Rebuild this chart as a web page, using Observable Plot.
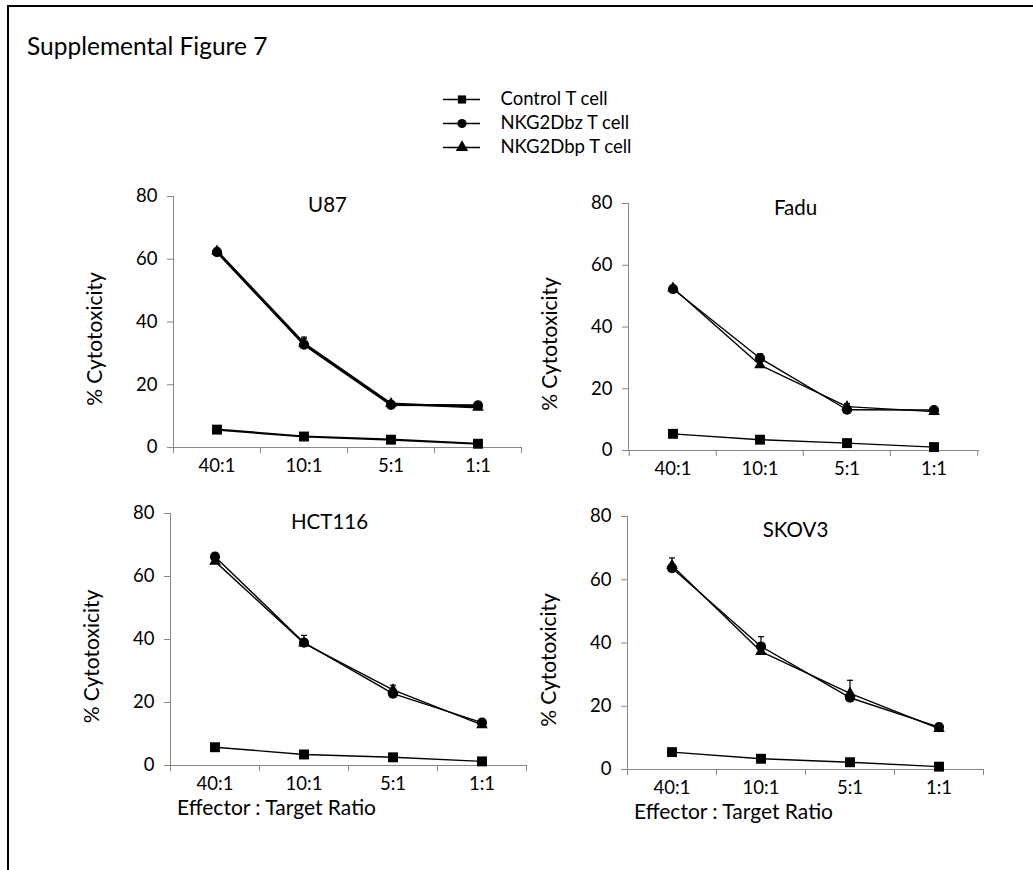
<!DOCTYPE html>
<html>
<head>
<meta charset="utf-8">
<script src="https://cdn.jsdelivr.net/npm/d3@7"></script>
<script src="https://cdn.jsdelivr.net/npm/@observablehq/plot@0.6"></script>
<style>
  body { margin: 0; background: #fff; }
  #root { position: relative; width: 1033px; height: 870px; overflow: hidden; font-family: Lato, sans-serif; color: #000; }
  #frame { position: absolute; left: 7px; top: 5px; width: 1200px; height: 1000px; border-left: 2px solid #000; border-top: 2px solid #000; }
  #title { position: absolute; left: 27px; top: 31px; font-size: 24.5px; white-space: nowrap; }
  .abs { position: absolute; }
</style>
</head>
<body>
<div id="root">
  <div id="frame"></div>
  <div id="title">Supplemental Figure 7</div>
</div>
<script>
// ---------- data ----------
const ratios = ["40:1", "10:1", "5:1", "1:1"];
const seriesNames = ["Control T cell", "NKG2Dbz T cell", "NKG2Dbp T cell"];
const panelNames = ["U87", "Fadu", "HCT116", "SKOV3"];
const yTicks = [0, 20, 40, 60, 80];
const yLabel = "% Cytotoxicity";
const xLabel = "Effector : Target Ratio";

const u87Control = [5.7, 3.5, 2.5, 1.2];
const u87Bz      = [62.3, 32.8, 13.6, 13.4];
const u87Bp      = [62.6, 33.2, 14.0, 12.8];
const u87BzErr   = [1.2, 2.4, 1.0, 0.4];
const u87BpErr   = [0.8, 1.5, 0.8, 0.4];

const faduControl = [5.4, 3.5, 2.4, 1.1];
const faduBz      = [52.3, 29.9, 13.2, 13.1];
const faduBp      = [52.6, 27.7, 14.2, 12.6];
const faduBzErr   = [1.1, 1.4, 0.6, 0.4];
const faduBpErr   = [0.8, 1.0, 1.0, 0.4];

const hctControl = [5.8, 3.5, 2.6, 1.3];
const hctBz      = [66.3, 39.0, 22.8, 13.6];
const hctBp      = [64.8, 38.8, 24.0, 12.9];
const hctBzErr   = [0.8, 2.3, 1.0, 0.5];
const hctBpErr   = [0.8, 1.2, 1.5, 0.6];

const skovControl = [5.5, 3.4, 2.3, 0.9];
const skovBz      = [63.7, 38.9, 22.7, 13.4];
const skovBp      = [64.5, 37.3, 24.1, 12.9];
const skovBzErr   = [1.0, 3.1, 1.0, 1.0];
const skovBpErr   = [2.4, 1.2, 4.1, 0.8];

const controlErrZero = [0, 0, 0, 0];

const panels = [
  {name: panelNames[0], control: u87Control, bz: u87Bz, bp: u87Bp, bzErr: u87BzErr, bpErr: u87BpErr},
  {name: panelNames[1], control: faduControl, bz: faduBz, bp: faduBp, bzErr: faduBzErr, bpErr: faduBpErr},
  {name: panelNames[2], control: hctControl, bz: hctBz, bp: hctBp, bzErr: hctBzErr, bpErr: hctBpErr},
  {name: panelNames[3], control: skovControl, bz: skovBz, bp: skovBp, bzErr: skovBzErr, bpErr: skovBpErr}
];

// ---------- layout / style ----------
const axisColor = "#878787";
const ML = 95, MR = 12;
const tickFont = 18.5, titleFont = 20.5, labelFont = 21, legendFont = 18.5;
const layouts = [
  {left: 78,  top: 171, plotW: 348, plotH: 251, mt: 25, mb: 35, titleDx: -20, titleDy: 9,  sw: 2.2, showX: false},
  {left: 533, top: 178, plotW: 350, plotH: 247, mt: 25, mb: 35, titleDx: -8,  titleDy: 5,  sw: 1.4, showX: false},
  {left: 75,  top: 488, plotW: 356, plotH: 252, mt: 25, mb: 60, titleDx: -19, titleDy: 9,  sw: 1.4, showX: true},
  {left: 532, top: 491, plotW: 356, plotH: 253, mt: 25, mb: 60, titleDx: -10, titleDy: 14, sw: 1.4, showX: true}
];
const symbolRange = ["square", "circle", "triangle"];
const symbolR = {"square": 5.6, "circle": 5.1, "triangle": 4.3};

const capSymbol = {
  draw(context, size) {
    const r = Math.sqrt(size / Math.PI);
    context.moveTo(-r, 0);
    context.lineTo(r, 0);
  }
};

function rowsFor(p) {
  const out = [];
  const vals = [p.control, p.bz, p.bp];
  const errs = [controlErrZero, p.bzErr, p.bpErr];
  seriesNames.forEach((s, si) => {
    ratios.forEach((r, i) => out.push({series: s, sym: symbolRange[si], ratio: r, value: vals[si][i], err: errs[si][i]}));
  });
  return out;
}

const root = document.getElementById("root");

panels.forEach((p, k) => {
  const L = layouts[k];
  const rows = rowsFor(p);
  const errRows = rows.filter(d => d.err > 0);
  const bw = L.plotW / ratios.length;
  const marks = [
    Plot.frame({anchor: "left", stroke: axisColor, strokeWidth: 1}),
    Plot.frame({anchor: "bottom", stroke: axisColor, strokeWidth: 1}),
    Plot.axisY({ticks: yTicks, tickSize: 6, tickPadding: 10, stroke: axisColor, label: null, fontSize: tickFont}),
    Plot.axisX({tickSize: 6, dx: -bw / 2, stroke: axisColor, tickFormat: () => "", label: null}),
    Plot.axisX({ticks: [ratios[ratios.length - 1]], tickSize: 6, dx: bw / 2, stroke: axisColor, tickFormat: () => "", label: null}),
    Plot.axisX({tickSize: 0, tickPadding: 11, label: null, fontSize: tickFont}),
    Plot.ruleX(errRows, {x: "ratio", y1: "value", y2: d => d.value + d.err, stroke: "#000", strokeWidth: 1.2}),
    Plot.dot(errRows, {x: "ratio", y: d => d.value + d.err, symbol: capSymbol, r: 3, fill: "none", stroke: "#000", strokeWidth: 1.2}),
    Plot.line(rows, {x: "ratio", y: "value", z: "series", stroke: "#000", strokeWidth: L.sw}),
    ...symbolRange.map(sym => Plot.dot(rows.filter(d => d.sym === sym), {x: "ratio", y: "value", symbol: "series", r: symbolR[sym], fill: "#000", stroke: "none"})),
    Plot.text([p.name], {text: d => d, frameAnchor: "top", dx: L.titleDx, dy: L.titleDy, lineAnchor: "middle", textAnchor: "middle", fontSize: titleFont}),
    Plot.text([yLabel], {text: d => d, frameAnchor: "left", rotate: -90, dx: -78, dy: 17, lineAnchor: "middle", textAnchor: "middle", fontSize: labelFont})
  ];
  if (L.showX) {
    marks.push(Plot.text([xLabel], {text: d => d, frameAnchor: "bottom-left", dx: 106, dy: 43, lineAnchor: "middle", textAnchor: "middle", fontSize: labelFont}));
  }
  const chart = Plot.plot({
    width: ML + L.plotW + MR,
    height: L.mt + L.plotH + L.mb,
    marginLeft: ML, marginRight: MR, marginTop: L.mt, marginBottom: L.mb,
    style: {fontFamily: "Lato, sans-serif", fontSize: tickFont + "px", color: "#000", background: "transparent", overflow: "visible"},
    x: {type: "band", domain: ratios, padding: 0, label: null},
    y: {domain: [0, 80], label: null},
    symbol: {domain: seriesNames, range: symbolRange},
    marks
  });
  chart.classList.add("abs");
  chart.style.left = L.left + "px";
  chart.style.top = L.top + "px";
  root.appendChild(chart);
});

// ---------- legend ----------
const legend = Plot.plot({
  width: 260, height: 72,
  margin: 0,
  style: {fontFamily: "Lato, sans-serif", fontSize: legendFont + "px", color: "#000", background: "transparent", overflow: "visible"},
  x: {domain: [0, 1], range: [13, 50], axis: null},
  y: {type: "point", domain: seriesNames, padding: 0.5, axis: null},
  symbol: {domain: seriesNames, range: symbolRange},
  marks: [
    Plot.ruleY(seriesNames, {y: d => d, x1: 0, x2: 1, stroke: "#000", strokeWidth: 1.5}),
    Plot.dot(seriesNames, {y: d => d, x: 0.5, symbol: d => d, r: 4.6, fill: "#000"}),
    Plot.text(seriesNames, {y: d => d, text: d => d, frameAnchor: "left", dx: 70, textAnchor: "start", fontSize: legendFont})
  ]
});
legend.classList.add("abs");
legend.style.left = "430px";
legend.style.top = "87px";
root.appendChild(legend);
</script>
</body>
</html>
